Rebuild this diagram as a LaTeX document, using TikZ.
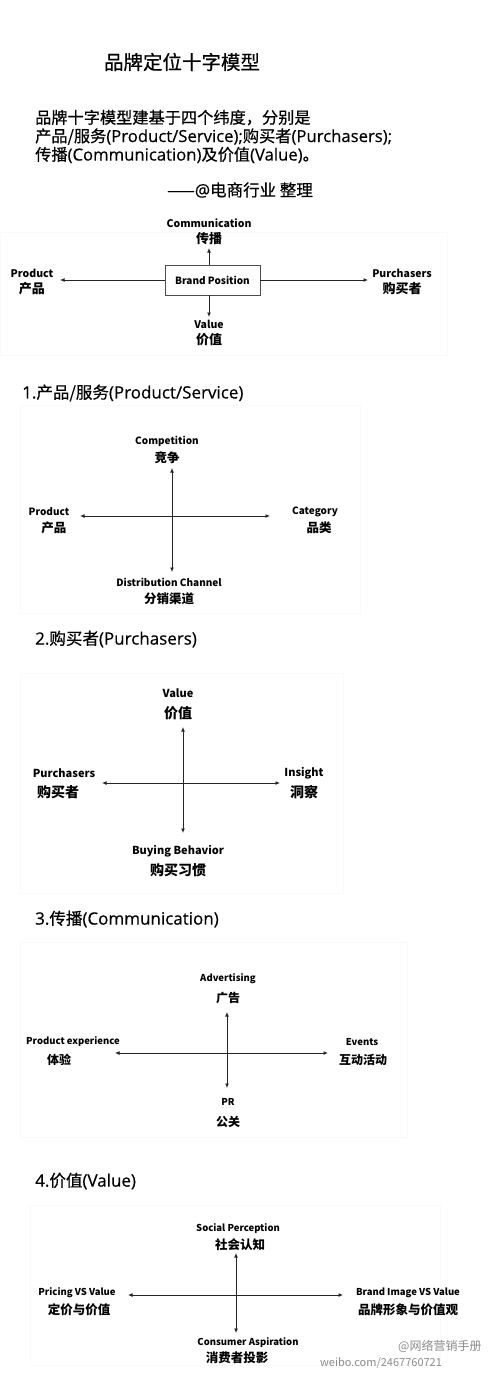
\documentclass[tikz,border=0pt]{standalone}
\usepackage{fontspec}
\setmainfont{Noto Sans CJK SC}
\newfontfamily\hcjk[FakeBold=0.5]{Noto Sans CJK SC}
\newfontfamily\hlat[FakeBold=0.4,Scale=1.03]{Open Sans}
\newcommand\latn[1]{{\hlat #1}}
\usetikzlibrary{arrows.meta}
\begin{document}
\begin{tikzpicture}[x=1pt,y=-1pt,
  axis/.style={draw=black!85,line width=0.9pt,-{Latex[length=4.5pt,width=4pt]}},
  en/.style={font=\fontsize{#1}{#1}\selectfont\bfseries,inner sep=0pt},
  cn/.style={font=\fontsize{#1}{#1}\selectfont\bfseries,inner sep=0pt},
  head/.style={font=\fontsize{16.5}{18}\selectfont\hcjk,inner sep=0pt,anchor=west},
  frame/.style={draw=black!2,line width=0.3pt},
  mark/.style={font=\fontsize{#1}{#1}\selectfont,text=black!45,inner sep=0pt,anchor=west}]
\useasboundingbox (0,0) rectangle (493,1379);
\fill[white] (0,0) rectangle (493,1379);

% faint frames of the pasted pictures
\draw[frame] (0,232) rectangle (447,355);
\draw[frame] (20,405) rectangle (360,613);
\draw[frame] (20,673) rectangle (343,893);
\draw[frame] (20,942) rectangle (407,1137);
\draw[frame] (30,1205) rectangle (440,1365);

% title and introduction
\node[inner sep=0pt] (title) at (182,62) {\fontsize{19.5}{21}\selectfont\hcjk 品牌定位十字模型};
\node[inner sep=0pt,anchor=west,align=left,font=\fontsize{16.2}{18.5}\selectfont\hcjk] (intro) at (35,136.5)
  {品牌十字模型建基于四个纬度，分别是\\产品/服务\latn{(Product/Service);}购买者\latn{(Purchasers);}\\传播\latn{(Communication)}及价值\latn{(Value)}。};
\node[inner sep=0pt,anchor=west,font=\fontsize{16.5}{18}\selectfont\hcjk] (author) at (167,190) {——\latn{@}电商行业 整理};

% section 0: brand position
\node[draw=black!70,line width=0.8pt,minimum width=95pt,minimum height=30pt,inner sep=0pt,
  font=\fontsize{10}{10}\selectfont\bfseries] (bp) at (212.5,280) {Brand Position};
\coordinate (p0L) at (60,280);
\coordinate (p0R) at (368,280);
\coordinate (p0U) at (209,248);
\coordinate (p0D) at (209,317);
\draw[axis] (bp.west) -- (p0L);
\draw[axis] (bp.east) -- (p0R);
\draw[axis] (p0U |- bp.north) -- (p0U);
\draw[axis] (p0D |- bp.south) -- (p0D);
\node[en=10.5] (s0ue) at (209,223) {Communication};
\node[cn=13] (s0uc) at (209,239) {传播};
\node[en=10.5] (s0de) at (209,324) {Value};
\node[cn=13] (s0dc) at (209,340) {价值};
\node[en=10.5] (s0le) at (32,273) {Product};
\node[cn=13] (s0lc) at (32,289) {产品};
\node[en=10.5] (s0re) at (402,273) {Purchasers};
\node[cn=13] (s0rc) at (402,289) {购买者};

% section 1
\node[head] (h1) at (22,393) {\latn{1.}产品/服务\latn{(Product/Service)}};
\coordinate (c1) at (172,516);
\coordinate (c1U) at (172,468);
\coordinate (c1D) at (172,572);
\coordinate (c1L) at (80,516);
\coordinate (c1R) at (270,516);
\draw[axis] (c1) -- (c1U);
\draw[axis] (c1) -- (c1D);
\draw[axis] (c1) -- (c1L);
\draw[axis] (c1) -- (c1R);
\node[en=10] (s1ue) at (167,441) {Competition};
\node[cn=12.5] (s1uc) at (167,458) {竞争};
\node[en=10] (s1le) at (49,512) {Product};
\node[cn=12.5] (s1lc) at (54,528) {产品};
\node[en=10] (s1re) at (315,512) {Category};
\node[cn=12.5] (s1rc) at (319,528) {品类};
\node[en=10] (s1de) at (169,582) {Distribution Channel};
\node[cn=12.5] (s1dc) at (169,599) {分销渠道};

% section 2
\node[head] (h2) at (35,639) {\latn{2.}购买者\latn{(Purchasers)}};
\coordinate (c2) at (183,783);
\coordinate (c2U) at (183,727);
\coordinate (c2D) at (183,833);
\coordinate (c2L) at (102,783);
\coordinate (c2R) at (280,783);
\draw[axis] (c2) -- (c2U);
\draw[axis] (c2) -- (c2D);
\draw[axis] (c2) -- (c2L);
\draw[axis] (c2) -- (c2R);
\node[en=11] (s2ue) at (178,693) {Value};
\node[cn=14] (s2uc) at (178,713) {价值};
\node[en=11] (s2le) at (64,773) {Purchasers};
\node[cn=14] (s2lc) at (58,792) {购买者};
\node[en=11] (s2re) at (304,773) {Insight};
\node[cn=14] (s2rc) at (304,792) {洞察};
\node[en=11] (s2de) at (178,851) {Buying Behavior};
\node[cn=14] (s2dc) at (178,870) {购买习惯};

% section 3
\node[head] (h3) at (35,919) {\latn{3.}传播\latn{(Communication)}};
\coordinate (c3) at (227,1053);
\coordinate (c3U) at (227,1012);
\coordinate (c3D) at (227,1088);
\coordinate (c3L) at (115,1053);
\coordinate (c3R) at (328,1053);
\draw[axis] (c3) -- (c3U);
\draw[axis] (c3) -- (c3D);
\draw[axis] (c3) -- (c3L);
\draw[axis] (c3) -- (c3R);
\node[en=9.5] (s3ue) at (228,979) {Advertising};
\node[cn=12] (s3uc) at (228,998) {广告};
\node[en=9.5] (s3le) at (73,1042) {Product experience};
\node[cn=12] (s3lc) at (59,1060) {体验};
\node[en=9.5] (s3re) at (362,1042) {Events};
\node[cn=12] (s3rc) at (363,1060) {互动活动};
\node[en=9.5] (s3de) at (228,1102) {PR};
\node[cn=12] (s3dc) at (228,1122) {公关};

% section 4
\node[head] (h4) at (35,1181) {\latn{4.}价值\latn{(Value)}};
\coordinate (c4) at (236,1295);
\coordinate (c4U) at (236,1253);
\coordinate (c4D) at (236,1333);
\coordinate (c4L) at (128,1295);
\coordinate (c4R) at (343,1295);
\draw[axis] (c4) -- (c4U);
\draw[axis] (c4) -- (c4D);
\draw[axis] (c4) -- (c4L);
\draw[axis] (c4) -- (c4R);
\node[en=9.5] (s4ue) at (238,1229) {Social Perception};
\node[cn=12.5] (s4uc) at (240,1245) {社会认知};
\node[en=9.5] (s4le) at (77,1293) {Pricing VS Value};
\node[cn=12.5] (s4lc) at (79,1310) {定价与价值};
\node[en=9.5] (s4re) at (408,1293) {Brand Image VS Value};
\node[cn=12.5] (s4rc) at (408,1310) {品牌形象与价值观};
\node[en=9.5] (s4de) at (248,1343) {Consumer Aspiration};
\node[cn=12.5] (s4dc) at (237,1358) {消费者投影};

% watermark
\node[mark=12] (wm1) at (398,1346) {@网络营销手册};
\node[mark=11] (wm2) at (320,1363) {weibo.com/2467760721};
\end{tikzpicture}
\end{document}
